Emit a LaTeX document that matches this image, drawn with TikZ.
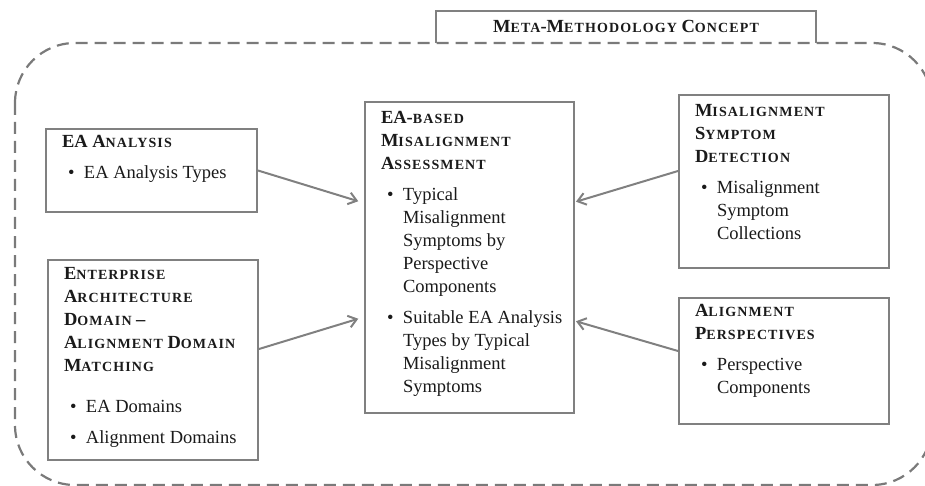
\documentclass[tikz,border=0pt]{standalone}
\usepackage{fontspec}
\setmainfont{Liberation Serif}
\newfontfamily\capsfont[LetterSpace=8]{Liberation Serif}
\usetikzlibrary{arrows.meta,calc}
\definecolor{linegray}{HTML}{808080}
\definecolor{framegray}{HTML}{7A7A7A}
\definecolor{inkblack}{HTML}{1A1A1A}
\newcommand\smcap[1]{{\capsfont\fontsize{14}{23}\selectfont #1}}
\newcommand\bitem[1]{\par\hangindent=22pt\hspace*{6pt}\makebox[16pt][l]{\textbullet}#1}
\newcommand\boxtext[4]{\parbox[t][#2pt][t]{#1pt}{\leftskip=16pt\rightskip=0pt plus 1fil\fontsize{18.5}{23}\selectfont\setlength\parskip{8pt}\rule{0pt}{#3pt}#4}}

\begin{document}
\begin{tikzpicture}[x=1pt,y=-1pt]
\tikzstyle{block}=[draw=linegray, line width=2pt, fill=white, inner sep=0pt, anchor=north west, text=inkblack]
\tikzstyle{flow}=[draw=linegray, line width=2pt, -{Straight Barb[length=8pt,width=12pt]}]
\tikzstyle{frame}=[draw=framegray, line width=2.2pt, dash pattern=on 12pt off 7pt, rounded corners=60pt]
\useasboundingbox (0,0) rectangle (925,486);
\draw [frame] (15,43) rectangle (932,485);
\node (title) at (626,27) [minimum width=380pt, minimum height=32pt, inner sep=0pt, text=inkblack, font=\fontsize{18.5}{23}\selectfont\bfseries] {\raisebox{1.5pt}{M\smcap{ETA}-M\smcap{ETHODOLOGY} C\smcap{ONCEPT}}};
\draw [linegray, line width=2pt] (title.south west) |- (title.north east) -- (title.south east);
\node [block] (eaan) at (45,128) {\boxtext{211}{83}{19}{\textbf{EA A\smcap{NALYSIS}}\bitem{EA Analysis Types}}};
\node [block] (ent) at (47,259) {\boxtext{210}{200}{19}{\textbf{E\smcap{NTERPRISE}\\A\smcap{RCHITECTURE}\\D\smcap{OMAIN} --\\A\smcap{LIGNMENT} D\smcap{OMAIN}\\M\smcap{ATCHING}}\par\vspace{10pt}\bitem{EA Domains}\bitem{Alignment Domains}}};
\node [block] (assess) at (364,101) {\boxtext{209}{311}{22}{\textbf{EA-\smcap{BASED}\\M\smcap{ISALIGNMENT}\\A\smcap{SSESSMENT}}\bitem{Typical\\Misalignment\\Symptoms by\\Perspective\\Components}\bitem{Suitable EA Analysis\\Types by Typical\\Misalignment\\Symptoms}}};
\node [block] (misal) at (678,94) {\boxtext{210}{173}{22}{\textbf{M\smcap{ISALIGNMENT}\\S\smcap{YMPTOM}\\D\smcap{ETECTION}}\bitem{Misalignment\\Symptom\\Collections}}};
\node [block] (align) at (678,297) {\boxtext{210}{126}{18}{\textbf{A\smcap{LIGNMENT}\\P\smcap{ERSPECTIVES}}\bitem{Perspective\\Components}}};
\draw [flow, shorten >=6pt] (eaan.east) -- ($(assess.west)+(0,-54.5)$);
\draw [flow, shorten >=6pt] ($(ent.east)+(0,-11)$) -- ($(assess.west)+(0,59.5)$);
\draw [flow, shorten >=1pt] ($(misal.west)+(0,-10.5)$) -- ($(assess.east)+(0,-55.5)$);
\draw [flow, shorten >=1pt] ($(align.west)+(0,-10)$) -- ($(assess.east)+(0,63.5)$);
\end{tikzpicture}
\end{document}
